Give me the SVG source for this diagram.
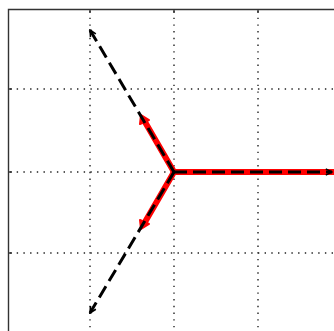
<svg xmlns="http://www.w3.org/2000/svg" width="334" height="331" viewBox="0 0 334 331">
<defs>
<style>
.grid{stroke:#222;stroke-width:1.4;stroke-dasharray:1.4 5.3;fill:none}
.frame{stroke:#333;stroke-width:1.4;fill:none}
.red{stroke:#ff0000;stroke-width:6;fill:none;stroke-linecap:round}
.blk{stroke:#000;stroke-width:3;stroke-dasharray:13 6;fill:none}
.redhead{fill:#ff0000;stroke:#ff0000;stroke-width:2;stroke-linejoin:round}
</style>
<marker id="bh" viewBox="0 0 10 10" refX="9" refY="5" markerWidth="2.6" markerHeight="2.6" orient="auto" markerUnits="strokeWidth">
<path d="M1,1 L9,5 L1,9" fill="none" stroke="#000" stroke-width="2"/>
</marker>
</defs>
<rect width="334" height="331" fill="#fff"/>
<g id="grid">
<path class="grid" d="M90,11 V331 M174,11 V331 M258,11 V331"/>
<path class="grid" d="M10,89 H334 M10,172 H334 M10,253 H334"/>
</g>
<g id="axes">
<path class="frame" d="M8.5,331 V9.5 H334"/>
<path class="frame" d="M90,9.5 V13 M174,9.5 V13 M258,9.5 V13 M8.5,89 H12 M8.5,172 H12 M8.5,253 H12"/>
</g>
<g id="connectors">
<g id="red-vectors">
<line class="red" x1="174" y1="172" x2="334" y2="172"/>
<line class="red" x1="174" y1="172" x2="145" y2="122"/>
<line class="red" x1="174" y1="172" x2="145" y2="222"/>
<polygon class="redhead" points="141,115 149,120 140,124"/>
<polygon class="redhead" points="141,229 149,224 140,220"/>
</g>
<g id="black-vectors">
<line class="blk" x1="174" y1="172" x2="332" y2="172" marker-end="url(#bh)"/>
<line class="blk" x1="174" y1="172" x2="90" y2="30" marker-end="url(#bh)"/>
<line class="blk" x1="174" y1="172" x2="90" y2="313" marker-end="url(#bh)"/>
</g>
</g>
</svg>
